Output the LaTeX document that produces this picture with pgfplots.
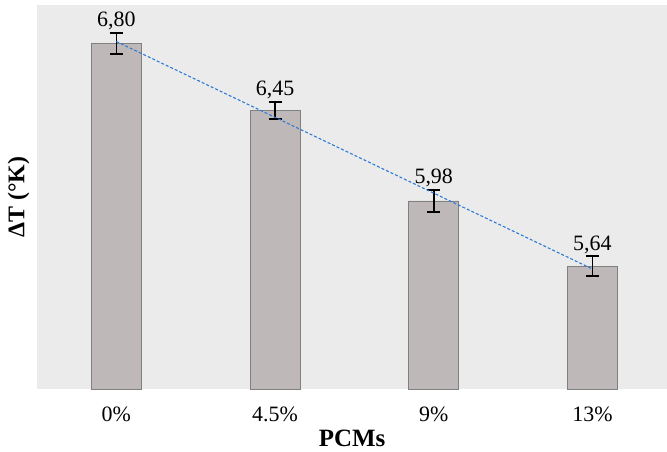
\documentclass[border=0pt]{standalone}
\usepackage{fontspec}
\setmainfont{Liberation Serif}
\usepackage{pgfplots}
\pgfplotsset{compat=1.18}

\definecolor{plotbg}{HTML}{EBEBEB}
\definecolor{barfill}{HTML}{BFB8B8}
\definecolor{baredge}{HTML}{808080}
\definecolor{trend}{HTML}{2E7BD6}

\begin{document}
\begin{tikzpicture}
\begin{axis}[
    scale only axis,
    width=630bp, height=384bp,
    xmin=-0.5, xmax=3.47,
    ymin=5, ymax=7,
    axis background/.style={fill=plotbg},
    axis line style={draw=none},
    ytick=\empty,
    xtick={0,1,2,3},
    xticklabels={0\%,4.5\%,9\%,13\%},
    major tick length=0pt,
    xticklabel style={anchor=base, yshift=-32bp, font=\fontsize{22}{24}\selectfont},
    xlabel={\textbf{PCMs}},
    xlabel style={at={(axis description cs:0.5,0)}, anchor=base, yshift=-57bp,
        font=\fontsize{25}{27}\selectfont},
    ylabel={\textbf{ΔT (°K)}},
    ylabel style={at={(axis description cs:0,0.5)}, anchor=center,
        yshift=18.5bp, font=\fontsize{24}{26}\selectfont},
    clip=false,
]
\addplot[ybar, bar width=50bp, fill=barfill, draw=baredge, line width=0.6bp,
    error bars/.cd, y dir=both, y explicit,
    error bar style={black, line width=1.6bp},
    error mark options={black, line width=1.6bp, mark size=6.5bp, rotate=90}]
    coordinates {
    (0,6.80) +- (0,0.055)
    (1,6.45) +- (0,0.045)
    (2,5.98) +- (0,0.058)
    (3,5.64) +- (0,0.052)
};
% linear trend line
\addplot[trend, densely dashed, line width=1.1bp] coordinates {(0,6.81) (3,5.625)};
% value labels above the error bars
\addplot[draw=none, mark=none,
    nodes near coords, point meta=explicit symbolic,
    nodes near coords style={anchor=base, yshift=6bp, font=\fontsize{22}{24}\selectfont, black}]
    coordinates {
    (0,6.855) [6,80]
    (1,6.495) [6,45]
    (2,6.038) [5,98]
    (3,5.692) [5,64]
};
\path (rel axis cs:0,0) ++(-37bp,-63bp) (rel axis cs:1,1) ++(0bp,5bp);
\end{axis}
\end{tikzpicture}
\end{document}
